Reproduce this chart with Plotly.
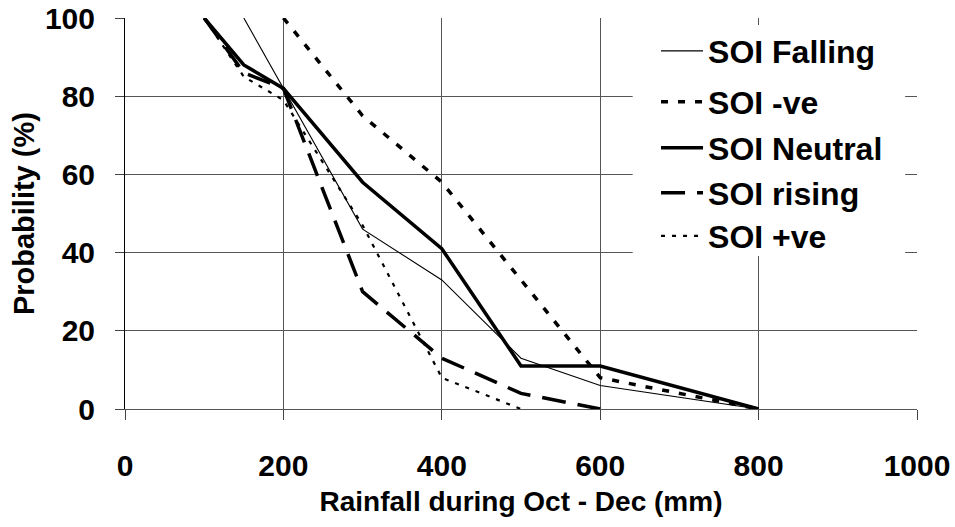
import plotly.graph_objects as go

# Data
x_falling = [150, 200, 300, 400, 500, 600, 800]
y_falling = [100, 82, 46, 33, 13, 6, 0]

x_neg = [200, 300, 400, 500, 600, 800]
y_neg = [100, 75, 58, 33, 8, 0]

x_neutral = [100, 150, 200, 300, 400, 500, 600, 800]
y_neutral = [100, 88, 82, 58, 41, 11, 11, 0]

x_rising = [100, 150, 200, 300, 400, 500, 600]
y_rising = [100, 86, 82, 30, 13, 4, 0]

x_pos = [100, 150, 200, 300, 400, 500]
y_pos = [100, 85, 79, 47, 8, 0]

x_ticks = [0, 200, 400, 600, 800, 1000]
y_ticks = [0, 20, 40, 60, 80, 100]

FONT = "Liberation Sans, Arial, sans-serif"

series = [
    ("SOI Falling", x_falling, y_falling, 1.1, "solid", "legend"),
    ("SOI -ve", x_neg, y_neg, 3.5, "7px,10px", "legend2"),
    ("SOI Neutral", x_neutral, y_neutral, 3.5, "solid", "legend3"),
    ("SOI rising", x_rising, y_rising, 3.5, "24px,12px", "legend4"),
    ("SOI +ve", x_pos, y_pos, 2.2, "4px,7px", "legend5"),
]

fig = go.Figure()
for name, xs, ys, w, dash, lg in series:
    fig.add_trace(go.Scatter(
        x=xs, y=ys, mode="lines", name=name,
        line=dict(color="black", width=w, dash=dash),
        legend=lg,
    ))

legend_ys = [0.9155, 0.785, 0.6675, 0.5524, 0.4423]
legend_common = dict(
    x=0.6705, xanchor="left", yanchor="middle",
    bgcolor="rgba(0,0,0,0)", borderwidth=0, itemwidth=42,
    font=dict(family=FONT, size=32, color="black", weight="bold"),
    tracegroupgap=0,
)

layout_legends = {}
for i, ly in enumerate(legend_ys):
    key = "legend" if i == 0 else f"legend{i+1}"
    layout_legends[key] = dict(y=ly, **legend_common)

fig.update_layout(
    width=955, height=527,
    margin=dict(l=125, r=38, t=18, b=118, autoexpand=False),
    paper_bgcolor="white", plot_bgcolor="white",
    font=dict(family=FONT, color="black"),
    showlegend=True,
    **layout_legends,
    xaxis=dict(
        range=[0, 1000], tickvals=x_ticks, ticktext=[str(v) for v in x_ticks],
        showgrid=True, gridcolor="#555", gridwidth=1,
        ticks="outside", ticklen=10, tickcolor="#444", tickwidth=1,
        showline=True, linecolor="#555", linewidth=1,
        tickfont=dict(family=FONT, size=30, color="black", weight="bold"),
        ticklabelstandoff=20, automargin=False,
        title=dict(text="Rainfall during Oct - Dec (mm)", standoff=10,
                   font=dict(family=FONT, size=28, color="black", weight="bold")),
        zeroline=False, fixedrange=True,
    ),
    yaxis=dict(
        range=[0, 100], tickvals=y_ticks, ticktext=[str(v) for v in y_ticks],
        showgrid=True, gridcolor="#555", gridwidth=1,
        ticks="outside", ticklen=9, tickcolor="#444", tickwidth=1,
        showline=True, linecolor="black", linewidth=1,
        tickfont=dict(family=FONT, size=30, color="black", weight="bold"),
        ticklabelstandoff=14, automargin=False,
        zeroline=False, fixedrange=True,
    ),
    annotations=[dict(
        text="Probability (%)", xref="paper", yref="paper",
        x=-0.128, y=0.5, xanchor="center", yanchor="middle",
        textangle=-90, showarrow=False,
        font=dict(family=FONT, size=29, color="black", weight="bold"),
    )],
    shapes=[dict(
        type="rect", xref="paper", yref="paper",
        x0=0.641, x1=0.985, y0=0.391, y1=0.982,
        fillcolor="white", line=dict(width=0), layer="above",
    )],
)

fig.write_html(
    "out.html",
    config={"displayModeBar": False},
    post_script="document.body.style.margin='0';document.body.style.overflow='hidden';",
)
